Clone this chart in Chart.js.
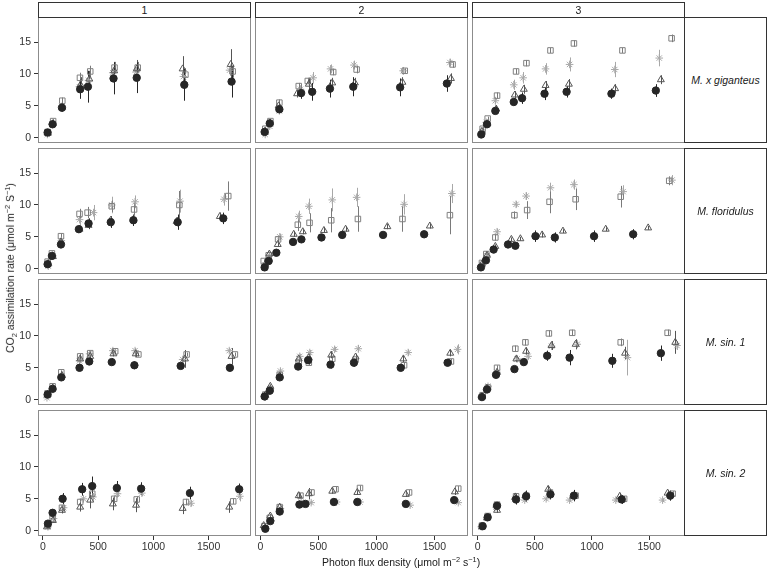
<!DOCTYPE html>
<html><head><meta charset="utf-8">
<script src="https://cdn.jsdelivr.net/npm/chart.js@4.4.0/dist/chart.umd.min.js"></script>
<style>
body{margin:0;background:#fff;width:767px;height:569px;position:relative;overflow:hidden;font-family:"Liberation Sans",Arial,Helvetica,sans-serif;}
canvas{position:absolute;}
.strip{position:absolute;box-sizing:border-box;border:1px solid #333;background:#fff;display:flex;align-items:center;justify-content:center;font-size:10.5px;color:#1a1a1a;}
.rs{font-style:italic;}
.title{position:absolute;font-size:10.5px;color:#1a1a1a;white-space:nowrap;}
sub,sup{font-size:0.7em;line-height:0;}
</style></head><body>
<script>
// ---------- DATA ----------
const colLabels = ["1", "2", "3"];
const rowLabels = ["M. x giganteus", "M. floridulus", "M. sin. 1", "M. sin. 2"];
const xTicks = [0, 500, 1000, 1500];
const yTicks = [0, 5, 10, 15];
// each entry = one panel, row-major (row 1 col 1, row 1 col 2, ...)
const circleX = [
 [42,87,172,337,407,639,849,1280,1708],[37,81,164,352,447,600,801,1205,1608],[32,82,155,316,389,585,778,1170,1558],
 [42,81,163,325,413,614,819,1220,1633],[37,72,138,282,354,527,706,1058,1412],[29,73,140,266,330,506,675,1018,1360],
 [42,87,166,331,419,623,828,1247,1693],[37,81,167,326,412,605,807,1210,1614],[38,82,161,322,404,608,804,1178,1602],
 [45,87,178,355,446,669,889,1331,1777],[43,86,167,337,389,634,836,1254,1671],[44,88,170,336,424,637,842,1260,1684]];
const circleY = [
 [0.8,2.1,4.7,7.6,8.0,9.3,9.4,8.3,8.8],[0.9,2.25,4.45,7.0,7.2,7.7,8.0,7.9,8.5],[0.5,2.1,4.2,5.6,6.2,6.9,7.2,6.9,7.4],
 [0.7,2.0,3.8,6.2,7.1,7.3,7.6,7.3,7.9],[0.2,1.2,2.5,4.2,4.6,4.9,5.3,5.3,5.4],[0.2,1.3,3.0,3.8,3.6,5.1,4.9,5.1,5.4],
 [0.8,1.7,3.5,5.0,6.0,5.9,5.4,5.3,5.0],[0.5,1.4,3.5,5.2,6.2,5.5,5.8,5.0,5.8],[0.4,1.6,3.9,4.8,5.9,6.9,6.6,6.1,7.3],
 [1.1,2.8,5.0,6.5,7.0,6.7,6.6,5.9,6.5],[0.3,1.5,3.0,4.1,4.2,4.5,4.5,4.2,4.8],[0.7,2.1,3.9,4.9,5.4,5.7,5.5,4.9,5.5]];
const circleE = [
 [0.3,0.4,0.6,1.5,2.5,2.5,2.4,2.5,2.5],[0.3,0.3,0.7,0.9,1.4,1.4,1.5,1.4,1.3],[0.2,0.3,0.5,0.6,0.9,1.0,0.9,0.8,1.0],
 [0.3,0.3,0.5,0.5,0.8,0.9,0.9,1.2,0.9],[0.2,0.3,0.4,0.4,0.5,0.4,0.6,0.4,0.5],[0.2,0.3,0.3,0.3,0.3,0.9,0.8,0.9,0.8],
 [0.2,0.3,0.3,0.3,0.4,0.6,0.6,0.4,0.4],[0.2,0.3,0.4,0.3,0.5,0.6,0.6,0.3,0.4],[0.2,0.3,0.5,0.3,0.6,0.8,1.2,1.1,1.2],
 [0.3,0.3,0.9,1.0,1.5,1.1,1.0,1.0,0.9],[0.2,0.3,0.4,0.3,0.3,0.4,0.4,0.3,0.4],[0.2,0.3,0.4,0.8,0.9,0.8,0.9,0.7,0.8]];
const triangleX = [
 [45,90,175,340,420,645,850,1265,1700],[40,84,158,317,418,620,815,1225,1643],[38,85,163,325,404,594,798,1202,1602],
 [48,90,163,331,413,614,819,1211,1602],[43,78,150,288,366,548,735,1095,1461],[38,82,155,295,374,564,746,1120,1491],
 [42,87,172,337,428,638,840,1286,1708],[43,86,167,331,418,611,821,1233,1637],[38,82,170,339,424,646,857,1289,1728],
 [36,90,172,337,428,633,843,1265,1687],[29,86,167,331,418,620,836,1254,1677],[38,82,170,330,418,617,836,1243,1661]];
const triangleY = [
 [0.7,2.2,4.8,8.3,9.2,10.5,10.8,10.8,11.5],[1.0,2.3,5.0,6.9,8.4,8.6,8.6,8.7,9.3],[1.0,2.2,4.5,6.7,7.6,8.2,8.4,7.7,9.1],
 [0.8,1.9,4.2,6.2,6.8,7.6,7.7,7.4,8.2],[0.7,2.3,3.8,5.4,5.8,6.0,6.2,6.6,6.7],[0.7,2.1,3.5,4.6,4.7,5.3,5.9,6.2,6.4],
 [0.8,1.8,3.8,6.4,6.8,7.2,7.2,6.4,6.8],[0.7,2.1,3.7,6.4,6.6,7.0,6.7,6.4,7.3],[0.5,1.8,4.3,6.4,7.6,8.5,8.7,7.3,9.0],
 [0.6,1.6,3.2,3.7,4.8,4.2,4.0,3.5,3.7],[0.8,2.3,3.7,5.5,5.8,6.2,6.0,5.7,6.1],[0.6,2.0,3.2,5.3,5.5,6.5,5.4,5.4,5.9]];
const triangleE = [
 [0.3,0.4,0.6,1.2,1.3,1.4,1.4,2.0,2.4],[0.3,0.3,0.5,0.6,1.0,0.8,0.8,0.8,0.8],[0.3,0.3,0.5,0.6,0.7,0.7,0.8,0.7,0.7],
 [0.3,0.3,0.4,0.5,0.6,0.6,0.6,0.7,0.6],[0.2,0.3,0.3,0.4,0.4,0.4,0.4,0.4,0.4],[0.2,0.3,0.3,0.3,0.3,0.4,0.3,0.3,0.3],
 [0.2,0.3,0.3,0.4,0.4,0.4,0.5,1.4,1.3],[0.2,0.3,0.3,0.4,0.4,0.5,0.5,0.5,0.5],[0.2,0.3,0.4,0.5,0.6,0.7,0.8,1.0,1.8],
 [0.3,0.4,0.5,0.7,1.3,1.0,1.1,0.9,0.9],[0.2,0.3,0.3,0.4,0.9,0.4,0.4,0.4,0.5],[0.2,0.3,0.4,0.4,0.4,0.5,0.4,0.4,0.5]];
const squareX = [
 [42,92,175,335,428,648,858,1290,1718],[43,87,164,331,409,628,830,1245,1657],[44,88,170,336,427,637,842,1266,1696],
 [42,81,163,331,404,623,825,1235,1678],[29,72,153,323,424,611,841,1225,1634],[38,76,155,322,433,629,857,1251,1675],
 [42,87,166,337,428,654,864,1301,1738],[43,86,167,331,418,620,821,1239,1643],[44,91,170,330,418,623,827,1251,1661],
 [42,87,172,337,446,645,849,1295,1723],[35,81,167,346,441,648,859,1282,1706],[38,88,170,336,427,632,857,1281,1705]];
const squareY = [
 [0.9,2.6,5.8,9.4,10.4,11.0,11.0,9.9,10.4],[1.4,2.6,5.5,8.1,8.9,10.3,10.7,10.5,11.5],[1.4,3.0,6.6,10.4,11.7,13.7,14.8,13.7,15.6],
 [1.1,2.4,5.1,8.6,8.8,9.8,9.3,10.0,11.4],[1.2,2.1,4.6,6.9,7.2,7.6,7.8,7.8,8.4],[0.9,2.3,4.9,8.4,9.2,10.5,10.9,11.3,13.8],
 [1.0,2.1,4.3,6.8,7.3,7.6,7.1,7.1,7.1],[0.8,1.6,3.9,5.9,5.8,6.4,6.3,5.4,6.0],[0.7,1.9,5.0,8.0,9.0,10.4,10.5,9.0,10.5],
 [0.9,1.9,3.6,4.5,5.8,5.0,4.9,4.5,4.6],[0.7,2.0,3.7,5.5,6.0,6.5,6.7,6.0,6.6],[0.8,2.3,4.1,5.4,5.5,6.0,5.5,5.0,5.8]];
const squareE = [
 [0.3,0.3,0.5,0.8,0.9,0.9,0.9,1.0,1.0],[0.3,0.3,0.5,0.5,0.5,0.5,0.6,0.4,0.5],[0.3,0.3,0.5,0.4,0.5,0.4,0.5,0.4,0.6],
 [0.3,0.3,0.4,0.8,0.9,0.9,1.0,2.2,2.3],[0.3,0.3,0.5,1.0,1.5,1.9,2.0,2.0,3.0],[0.3,0.3,0.5,0.6,1.4,1.8,1.7,1.7,0.7],
 [0.2,0.3,0.3,0.4,0.3,0.3,0.3,0.3,0.3],[0.2,0.3,0.3,0.3,0.4,0.4,0.4,0.4,0.4],[0.3,0.3,0.4,0.5,0.5,0.5,0.5,0.6,0.5],
 [0.3,0.3,0.4,0.5,0.6,0.5,0.5,0.5,0.4],[0.2,0.3,0.3,0.4,0.4,0.4,0.4,0.4,0.4],[0.2,0.3,0.4,0.4,0.4,0.4,0.4,0.4,0.4]];
const starX = [
 [40,85,170,330,412,632,842,1272,1690],[42,81,164,346,455,605,807,1231,1634],[38,76,155,316,398,594,804,1199,1588],
 [48,90,166,331,458,623,834,1241,1639],[37,78,167,331,418,620,830,1239,1651],[38,82,170,336,424,637,842,1272,1699],
 [36,90,172,331,422,633,834,1265,1687],[43,81,173,340,426,640,844,1274,1700],[32,91,170,345,441,646,871,1310,1743],
 [45,96,187,367,452,675,895,1340,1783],[43,92,173,352,438,657,859,1291,1706],[32,82,161,325,412,599,804,1208,1617]];
const starY = [
 [0.5,2.1,4.9,8.0,9.0,10.2,10.3,9.6,10.6],[0.5,1.8,4.2,7.6,9.4,10.8,11.4,10.5,11.8],[0.9,2.4,5.8,8.3,9.4,10.8,11.5,10.7,12.5],
 [0.4,2.0,4.4,7.7,8.8,10.0,10.5,10.6,10.9],[0.6,2.1,5.0,8.2,9.8,10.8,11.2,10.1,11.8],[0.6,2.0,5.8,10.1,11.4,12.7,13.2,12.1,13.9],
 [0.3,1.6,3.7,6.1,7.2,7.7,7.7,6.3,7.7],[0.4,1.7,4.5,6.8,7.4,7.9,8.0,7.4,7.9],[0.4,2.1,4.3,6.4,6.8,8.4,8.7,6.6,8.5],
 [0.6,1.9,3.6,5.0,5.3,5.8,5.9,4.3,5.4],[0.4,1.6,3.5,4.5,4.4,4.5,4.5,4.0,4.4],[0.6,2.0,3.7,4.9,4.8,5.0,4.8,4.8,4.8]];
const starE = [
 [0.3,0.3,0.5,0.8,0.8,0.8,0.8,0.9,0.9],[0.3,0.3,0.4,0.6,0.9,0.7,0.7,0.6,0.6],[0.3,0.3,0.6,0.8,0.9,0.9,1.1,1.2,1.3],
 [0.3,0.3,0.5,1.0,1.2,1.3,1.0,1.8,1.0],[0.3,0.3,0.5,0.9,1.2,1.8,1.5,1.6,1.5],[0.3,0.3,0.5,0.5,0.6,0.8,0.8,1.0,0.8],
 [0.2,0.3,0.3,0.4,0.4,0.4,0.4,0.5,0.4],[0.2,0.3,0.4,0.4,0.4,0.4,0.6,0.5,0.8],[0.2,0.3,0.4,0.5,0.5,0.6,0.6,2.8,0.7],
 [0.3,0.3,0.4,0.5,0.6,0.5,0.5,0.5,0.8],[0.2,0.3,0.3,0.3,0.3,0.3,0.3,0.3,0.3],[0.2,0.3,0.3,0.3,0.3,0.3,0.3,0.3,0.3]];

// ---------- LAYOUT / STYLE ----------
const rowTops = [17, 148, 279, 410], colLefts = [38, 255, 472], PW = 213, PH = 126;
const xRanges = [[-45, 1884], [-46, 1790], [-49, 1813]];
const yRange = [-0.84, 18.95];
const seriesDefs = [
  {xs: circleX, ys: circleY, es: circleE, style: 'circle', r: 3.7, fill: '#262626', stroke: '#262626', err: '#262626'},
  {xs: triangleX, ys: triangleY, es: triangleE, style: 'triangle', r: 4.0, fill: 'rgba(0,0,0,0)', stroke: '#555555', err: '#555555'},
  {xs: squareX, ys: squareY, es: squareE, style: 'rect', r: 3.9, fill: 'rgba(0,0,0,0)', stroke: '#808080', err: '#7a7a7a'},
  {xs: starX, ys: starY, es: starE, style: 'star', r: 3.8, fill: 'rgba(0,0,0,0)', stroke: '#a8a8a8', err: '#a8a8a8'}
];
const tickFont = {family: '"Liberation Sans", Arial, sans-serif', size: 10.5};

const errPlugin = {
  id: 'err',
  beforeDatasetsDraw(chart) {
    const {ctx, scales: {x, y}, chartArea} = chart;
    ctx.save();
    ctx.beginPath(); ctx.rect(chartArea.left, chartArea.top, chartArea.width, chartArea.height); ctx.clip();
    for (let i = chart.data.datasets.length - 1; i >= 0; i--) {
      const ds = chart.data.datasets[i];
      ctx.strokeStyle = ds.errColor; ctx.lineWidth = 1;
      ds.data.forEach(p => {
        const px = Math.round(x.getPixelForValue(p.x)) + 0.5;
        ctx.beginPath();
        ctx.moveTo(px, y.getPixelForValue(p.y - p.e));
        ctx.lineTo(px, y.getPixelForValue(p.y + p.e));
        ctx.stroke();
      });
    }
    ctx.restore();
  }
};
const borderPlugin = {
  id: 'pborder',
  afterDraw(chart) {
    const {ctx, chartArea: a} = chart;
    ctx.save(); ctx.strokeStyle = '#8c8c8c'; ctx.lineWidth = 1;
    ctx.strokeRect(Math.round(a.left) + 0.5, Math.round(a.top) + 0.5, Math.round(a.width) - 1, Math.round(a.height) - 1);
    ctx.restore();
  }
};

for (let r = 0; r < 4; r++) {
  for (let c = 0; c < 3; c++) {
    const p = r * 3 + c;
    const isLeft = c === 0, isBottom = r === 3;
    const axW = isLeft ? 38 : 0, axH = isBottom ? 30 : 0;
    const cv = document.createElement('canvas');
    cv.width = PW + axW; cv.height = PH + axH;
    cv.style.left = (colLefts[c] - axW) + 'px'; cv.style.top = rowTops[r] + 'px';
    cv.style.width = cv.width + 'px'; cv.style.height = cv.height + 'px';
    document.body.appendChild(cv);
    const datasets = seriesDefs.map(s => ({
      data: s.xs[p].map((xv, i) => ({x: xv, y: s.ys[p][i], e: s.es[p][i]})),
      pointStyle: s.style, pointRadius: s.r, pointBackgroundColor: s.fill,
      pointBorderColor: s.stroke, pointBorderWidth: 1, showLine: false,
      errColor: s.err, clip: false
    }));
    new Chart(cv, {
      type: 'scatter',
      data: {datasets},
      options: {
        responsive: false, animation: false, events: [], devicePixelRatio: 1,
        layout: {padding: 0, autoPadding: false},
        plugins: {legend: {display: false}, tooltip: {enabled: false}},
        scales: {
          x: {
            type: 'linear', min: xRanges[c][0], max: xRanges[c][1], display: isBottom,
            grid: {display: true, drawOnChartArea: false, drawTicks: true, tickLength: 4, color: '#333'},
            border: {display: false},
            ticks: {font: tickFont, color: '#333', padding: 1, maxRotation: 0, autoSkip: false, callback: v => String(v)},
            afterBuildTicks: s => { s.ticks = xTicks.map(v => ({value: v})); },
            afterFit: s => { s.height = axH; s.paddingLeft = 0; s.paddingRight = 0; }
          },
          y: {
            type: 'linear', min: yRange[0], max: yRange[1], display: isLeft,
            grid: {display: true, drawOnChartArea: false, drawTicks: true, tickLength: 4, color: '#333'},
            border: {display: false},
            ticks: {font: tickFont, color: '#333', padding: 3, autoSkip: false, callback: v => String(v)},
            afterBuildTicks: s => { s.ticks = yTicks.map(v => ({value: v})); },
            afterFit: s => { s.width = axW; s.paddingTop = 0; s.paddingBottom = 0; }
          }
        }
      },
      plugins: [errPlugin, borderPlugin]
    });
  }
}

// strips
colLabels.forEach((t, c) => {
  const d = document.createElement('div'); d.className = 'strip';
  d.style.left = colLefts[c] + 'px'; d.style.top = '2px'; d.style.width = PW + 'px'; d.style.height = '16px';
  d.textContent = t; document.body.appendChild(d);
});
rowLabels.forEach((t, r) => {
  const d = document.createElement('div'); d.className = 'strip rs';
  d.style.left = (colLefts[2] + PW - 1) + 'px'; d.style.top = rowTops[r] + 'px'; d.style.width = '83px'; d.style.height = PH + 'px';
  d.textContent = t; document.body.appendChild(d);
});
// axis titles
const yt = document.createElement('div'); yt.className = 'title';
yt.innerHTML = 'CO<sub>2</sub> assimilation rate (μmol m<sup>−2</sup> S<sup>−1</sup>)';
document.body.appendChild(yt);
yt.style.left = (10 - yt.offsetWidth / 2) + 'px'; yt.style.top = (268 - yt.offsetHeight / 2) + 'px';
yt.style.transform = 'rotate(-90deg)';
const xt = document.createElement('div'); xt.className = 'title';
xt.innerHTML = 'Photon flux density (μmol m<sup>−2</sup> s<sup>−1</sup>)';
document.body.appendChild(xt);
xt.style.left = (401 - xt.offsetWidth / 2) + 'px'; xt.style.top = (562 - xt.offsetHeight / 2) + 'px';
</script>
</body></html>
